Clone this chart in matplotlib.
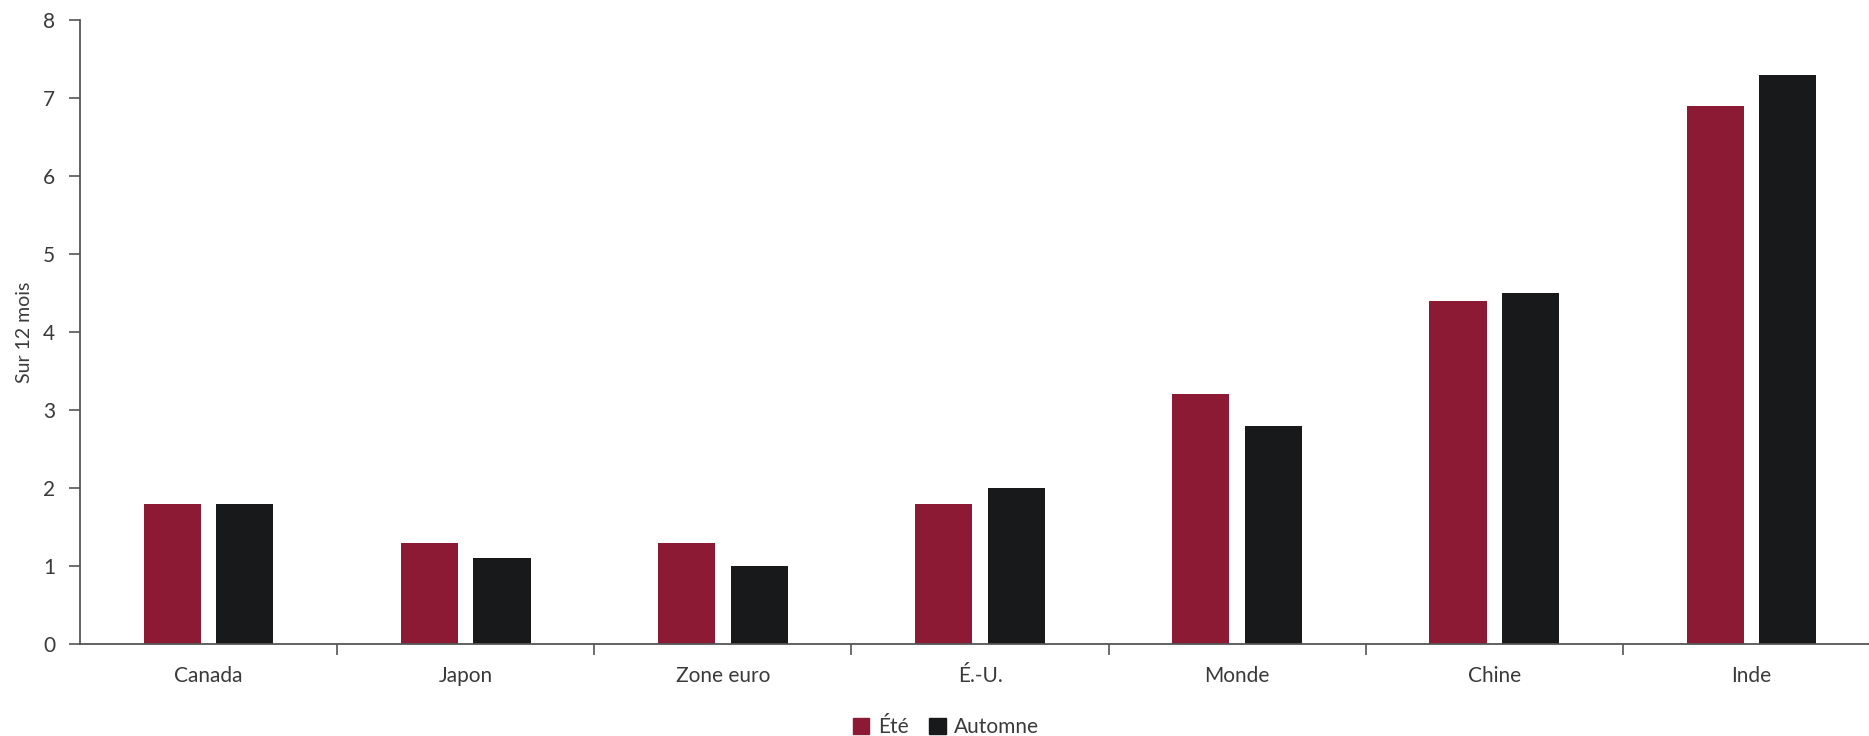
import matplotlib
matplotlib.use("Agg")
import matplotlib.pyplot as plt
import numpy as np
from matplotlib.patches import Patch

categories = ["Canada", "Japon", "Zone euro", "É.-U.", "Monde", "Chine", "Inde"]
ete = [1.8, 1.3, 1.3, 1.8, 3.2, 4.4, 6.9]
automne = [1.8, 1.1, 1.0, 2.0, 2.8, 4.5, 7.3]
series_names = ["Été", "Automne"]
y_ticks = [0, 1, 2, 3, 4, 5, 6, 7, 8]

RED = "#8C1A35"
BLACK = "#18191B"
AXIS = "#555555"
TEXT = "#3a3a3a"

plt.rcParams["font.family"] = ["Lato", "DejaVu Sans"]

W, H = 1869, 736
fig = plt.figure(figsize=(W / 100, H / 100), dpi=100)
left, right, top, bottom = 80, 1880, 20, 644
ax = fig.add_axes([left / W, 1 - bottom / H, (right - left) / W, (bottom - top) / H])

x = np.arange(len(categories))
bw = 0.2225
off = 0.141
ax.bar(x - off, ete, width=bw, color=RED, label=series_names[0], zorder=2)
ax.bar(x + off, automne, width=bw, color=BLACK, label=series_names[1], zorder=2)

ax.set_xlim(-0.5, len(categories) - 0.5)
ax.set_ylim(0, 8)
ax.set_yticks(y_ticks)
ax.set_yticklabels([str(v) for v in y_ticks], fontsize=15, color=TEXT)

# category labels centred, ticks drawn at the boundaries between groups
ax.set_xticks(np.arange(len(categories) - 1) + 0.5)
ax.set_xticklabels([])
ax.set_xticks(x, minor=True)
ax.set_xticklabels(categories, minor=True, fontsize=15, color=TEXT)
ax.tick_params(axis="x", which="minor", length=0, pad=16)
ax.tick_params(axis="x", which="major", length=8, width=1.2, color=AXIS, direction="out")
ax.tick_params(axis="y", length=8, width=1.2, color=AXIS, direction="out", pad=10)

for side in ["top", "right"]:
    ax.spines[side].set_visible(False)
for side in ["left", "bottom"]:
    ax.spines[side].set_color(AXIS)
    ax.spines[side].set_linewidth(1.3)

ax.set_ylabel("Sur 12 mois", fontsize=14, color=TEXT, labelpad=7)

handles = [Patch(color=RED, label=series_names[0]), Patch(color=BLACK, label=series_names[1])]
fig.legend(handles=handles, loc="center", bbox_to_anchor=(946 / W, 1 - 727 / H), ncol=2,
           frameon=False, handlelength=0.8, handleheight=0.8,
           handletextpad=0.4, columnspacing=1.0, labelcolor=TEXT,
           prop={"size": 15})

fig.savefig("out.png", dpi=100)
